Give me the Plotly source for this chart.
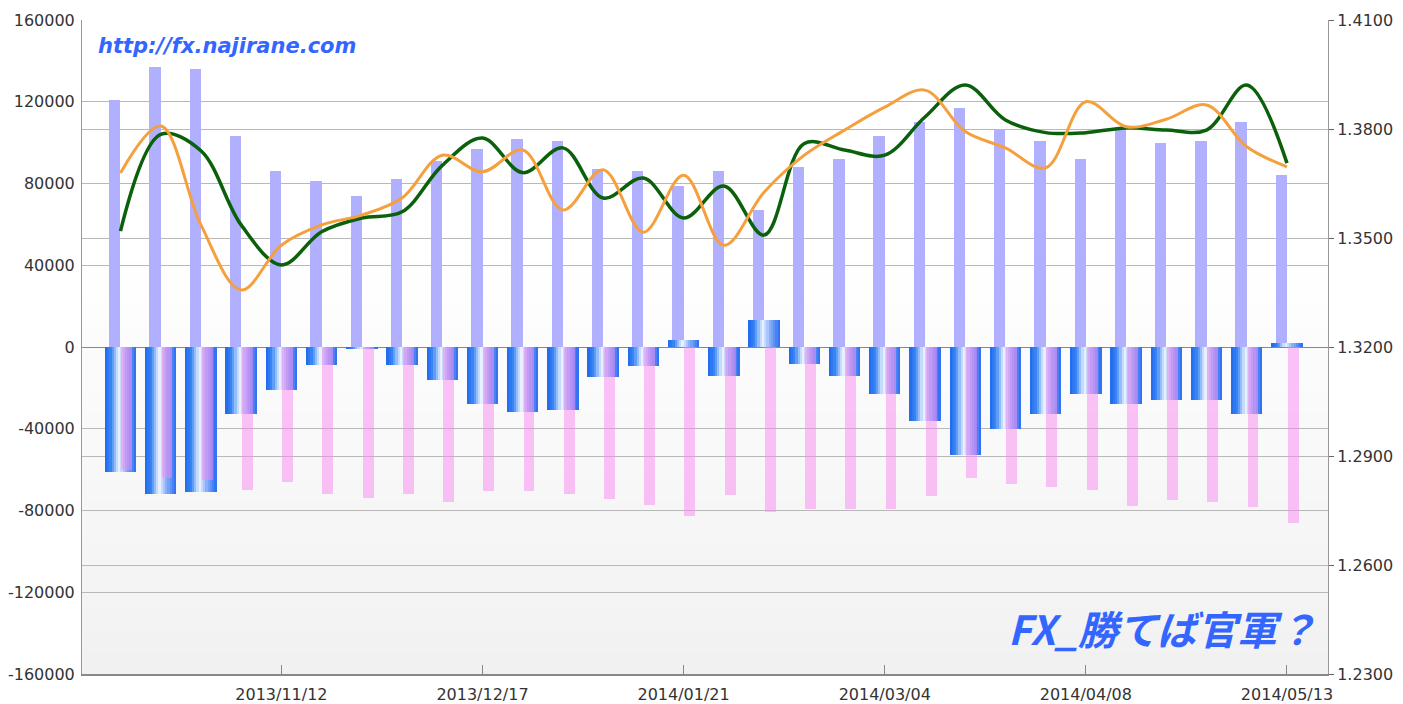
import plotly.graph_objects as go

# ---------------- data ----------------
dates = ["2013/10/15", "2013/10/22", "2013/10/29", "2013/11/05", "2013/11/12",
         "2013/11/19", "2013/11/26", "2013/12/03", "2013/12/10", "2013/12/17",
         "2013/12/24", "2013/12/31", "2014/01/07", "2014/01/14", "2014/01/21",
         "2014/01/28", "2014/02/04", "2014/02/11", "2014/02/18", "2014/03/04",
         "2014/03/11", "2014/03/18", "2014/03/25", "2014/04/01", "2014/04/08",
         "2014/04/15", "2014/04/22", "2014/04/29", "2014/05/06", "2014/05/13"]
tick_labels = ["2013/11/12", "2013/12/17", "2014/01/21", "2014/03/04", "2014/04/08", "2014/05/13"]
left_ticks = [-160000, -120000, -80000, -40000, 0, 40000, 80000, 120000, 160000]

long_pos = [121000, 137000, 136000, 103000, 86000, 81000, 74000, 82000, 91000, 97000,
            102000, 101000, 87000, 86000, 79000, 86000, 67000, 88000, 92000, 103000,
            110000, 117000, 106000, 101000, 92000, 106000, 100000, 101000, 110000, 84000]
net_pos = [-61000, -72000, -71000, -33000, -21000, -9000, -500, -9000, -16000, -28000,
           -32000, -31000, -14500, -9500, 3500, -14000, 13000, -8500, -14000, -23000,
           -36000, -53000, -40000, -33000, -23000, -28000, -26000, -26000, -33000, 2000]
short_pos = [-60000, -64000, -65000, -70000, -66000, -72000, -74000, -72000, -76000, -70500,
             -70500, -72000, -74500, -77500, -82500, -72500, -80500, -79500, -79500, -79500,
             -73000, -64000, -67000, -68500, -70000, -78000, -75000, -76000, -78500, -86000]
rate_green = [1.3519, 1.3785, 1.3740, 1.3536, 1.3426, 1.3517, 1.3555, 1.3572, 1.3700, 1.3775,
              1.3680, 1.3748, 1.3610, 1.3665, 1.3555, 1.3643, 1.3508, 1.3760, 1.3742, 1.3728,
              1.3833, 1.3921, 1.3825, 1.3790, 1.3790, 1.3803, 1.3797, 1.3797, 1.3921, 1.3706]
rate_orange = [1.3679, 1.3808, 1.3536, 1.3357, 1.3480, 1.3536, 1.3563, 1.3610, 1.3728, 1.3682,
               1.3742, 1.3577, 1.3688, 1.3516, 1.3673, 1.3480, 1.3626, 1.3728, 1.3797, 1.3860,
               1.3907, 1.3793, 1.3748, 1.3693, 1.3875, 1.3806, 1.3827, 1.3866, 1.3751, 1.3696]

# ---------------- figure ----------------
fig = go.Figure()

# lavender bars (behind)
fig.add_trace(go.Bar(x=dates, y=long_pos, offset=-0.28, width=0.28,
                     marker=dict(color="#b0b0ff", line=dict(width=0)), yaxis="y"))

# blue cylinder-like gradient bar built from thin slices
def lerp(c1, c2, t):
    return tuple(round(a + (b - a) * t) for a, b in zip(c1, c2))

stops = [(0.0, (30, 105, 238)), (0.2, (60, 135, 245)), (0.45, (238, 244, 255)),
         (0.7, (130, 170, 250)), (1.0, (40, 108, 240))]

def grad(t):
    for (t0, c0), (t1, c1) in zip(stops[:-1], stops[1:]):
        if t0 <= t <= t1:
            return lerp(c0, c1, (t - t0) / (t1 - t0))
    return stops[-1][1]

N = 14
total_w = 0.78
sw = total_w / N
for i in range(N):
    c = grad((i + 0.5) / N)
    fig.add_trace(go.Bar(x=dates, y=net_pos, offset=-total_w / 2 + i * sw,
                         width=sw * 1.15 if i < N - 1 else sw,
                         marker=dict(color="rgb(%d,%d,%d)" % c, line=dict(width=0)),
                         yaxis="y"))

# pink bars (translucent, on top)
fig.add_trace(go.Bar(x=dates, y=short_pos, offset=0.02, width=0.27,
                     marker=dict(color="rgba(248,136,240,0.5)", line=dict(width=0)),
                     yaxis="y"))

# rate lines
fig.add_trace(go.Scatter(x=dates, y=rate_green, mode="lines", yaxis="y2",
                         line=dict(color="#0b600b", width=3.5, shape="spline", smoothing=1.0)))
fig.add_trace(go.Scatter(x=dates, y=rate_orange, mode="lines", yaxis="y2",
                         line=dict(color="#f5a03c", width=3, shape="spline", smoothing=1.0)))

# plot background gradient (bands)
shapes = []
nb = 30
for k in range(nb):
    y0 = k / nb
    y1 = (k + 1) / nb
    t = min(1.0, (y0 + y1) / 2 / 0.65)
    g = round(241 + (255 - 241) * t)
    shapes.append(dict(type="rect", xref="x domain", yref="y domain",
                       x0=0, x1=1, y0=y0, y1=y1 + 0.002, layer="below",
                       fillcolor="rgb(%d,%d,%d)" % (g, g, g), line=dict(width=0)))

font_axis = dict(family="DejaVu Sans", size=16, color="#333333")

# page has an 8px body margin, so the figure is sized to fit the 1403x704 window
fig.update_layout(
    width=1395, height=696,
    margin=dict(l=74, r=75, t=12, b=30, autoexpand=False),
    paper_bgcolor="white", plot_bgcolor="white",
    barmode="overlay", bargap=0,
    showlegend=False,
    shapes=shapes,
    xaxis=dict(type="category", categoryorder="array", categoryarray=dates,
               range=[-0.957, 30.02], tickmode="array", tickvals=tick_labels,
               ticktext=tick_labels, ticks="inside", ticklen=9, tickcolor="#888888",
               showgrid=False, showline=True, linecolor="#888888", linewidth=1.5,
               tickfont=font_axis, ticklabelstandoff=5, zeroline=False, automargin=False),
    yaxis=dict(range=[-160000, 160000], tickmode="array", tickvals=left_ticks,
               ticktext=[str(v) for v in left_ticks],
               showgrid=True, gridcolor="#b8b8b8", gridwidth=1,
               showline=True, linecolor="#999999", linewidth=1,
               zeroline=True, zerolinecolor="#888888", zerolinewidth=1,
               ticks="", tickfont=font_axis, ticklabelstandoff=3, automargin=False),
    yaxis2=dict(range=[1.23, 1.41], dtick=0.03, tickformat=".4f",
                overlaying="y", side="right", anchor="x",
                showgrid=True, gridcolor="#b8b8b8", gridwidth=1,
                showline=True, linecolor="#999999", linewidth=1,
                zeroline=False, ticks="outside", ticklen=5, tickcolor="#666666",
                tickfont=font_axis, ticklabelstandoff=0, automargin=False),
    annotations=[
        dict(text="http://fx.najirane.com", xref="paper", yref="paper",
             x=(227 - 82) / 1246, y=1 - (46 - 20) / 654, xanchor="center", yanchor="middle",
             showarrow=False,
             font=dict(family="DejaVu Sans", size=21, color="#3366ff",
                       weight="bold", style="italic")),
        dict(text="FX_勝てば官軍？", xref="paper", yref="paper",
             x=(1162 - 82) / 1246, y=1 - (628 - 20) / 654, xanchor="center", yanchor="middle",
             showarrow=False,
             font=dict(family="Noto Sans CJK JP", size=40, color="#3366ff",
                       weight="bold", style="italic")),
    ],
)

fig.write_html("out.html")
